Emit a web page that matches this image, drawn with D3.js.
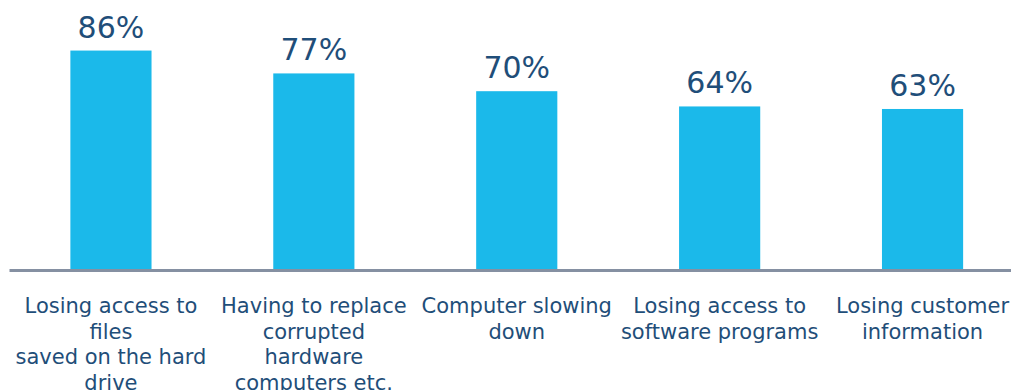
<!DOCTYPE html>
<html>
<head>
<meta charset="utf-8">
<script src="https://cdn.jsdelivr.net/npm/d3@7"></script>
<style>
  html, body { margin: 0; padding: 0; background: #ffffff; }
  svg { display: block; }
</style>
</head>
<body>
<div id="chart"></div>
<script>
// Share of respondents concerned about each consequence
const categories = [
  ["Losing access to", "files", "saved on the hard", "drive"],
  ["Having to replace", "corrupted", "hardware", "computers etc."],
  ["Computer slowing", "down"],
  ["Losing access to", "software programs"],
  ["Losing customer", "information"]
];
const values = [86, 77, 70, 64, 63];
const valueLabels = ["86%", "77%", "70%", "64%", "63%"];

const width = 1011, height = 390;
const baseY = 269;

const svg = d3.select("#chart").append("svg")
  .attr("width", width)
  .attr("height", height);

const ids = d3.range(values.length);

const x = d3.scaleBand()
  .domain(ids)
  .range([9.5, 1024])
  .paddingInner(0.6)
  .paddingOuter(0.3);

const y = d3.scaleLinear()
  .domain([0, 100])
  .range([baseY, 15]);

// Bars
svg.append("g").selectAll("rect")
  .data(ids)
  .join("rect")
  .attr("x", i => x(i))
  .attr("y", i => y(values[i]))
  .attr("width", x.bandwidth())
  .attr("height", i => y(0) - y(values[i]))
  .attr("fill", "#1bb9ea");

// Baseline
svg.append("line")
  .attr("x1", x.range()[0])
  .attr("x2", width)
  .attr("y1", y(0) + 1.5)
  .attr("y2", y(0) + 1.5)
  .attr("stroke", "#8590a2")
  .attr("stroke-width", 3);

// Value labels above bars
svg.append("g").selectAll("text")
  .data(ids)
  .join("text")
  .attr("x", i => x(i) + x.bandwidth() / 2)
  .attr("y", i => y(values[i]) - 13)
  .attr("text-anchor", "middle")
  .attr("font-family", "DejaVu Sans, Verdana, sans-serif")
  .attr("font-size", 30)
  .attr("fill", "#1f4e79")
  .text(i => valueLabels[i]);

// Category labels below the baseline
const cat = svg.append("g").selectAll("text")
  .data(ids)
  .join("text")
  .attr("x", i => x(i) + x.bandwidth() / 2)
  .attr("y", 313)
  .attr("text-anchor", "middle")
  .attr("font-family", "DejaVu Sans, Verdana, sans-serif")
  .attr("font-size", 21)
  .attr("fill", "#1f4e79");

cat.selectAll("tspan")
  .data(i => categories[i].map(t => ({ t, cx: x(i) + x.bandwidth() / 2 })))
  .join("tspan")
  .attr("x", d => d.cx)
  .attr("dy", (d, j) => j === 0 ? 0 : 25.5)
  .text(d => d.t);
</script>
</body>
</html>
